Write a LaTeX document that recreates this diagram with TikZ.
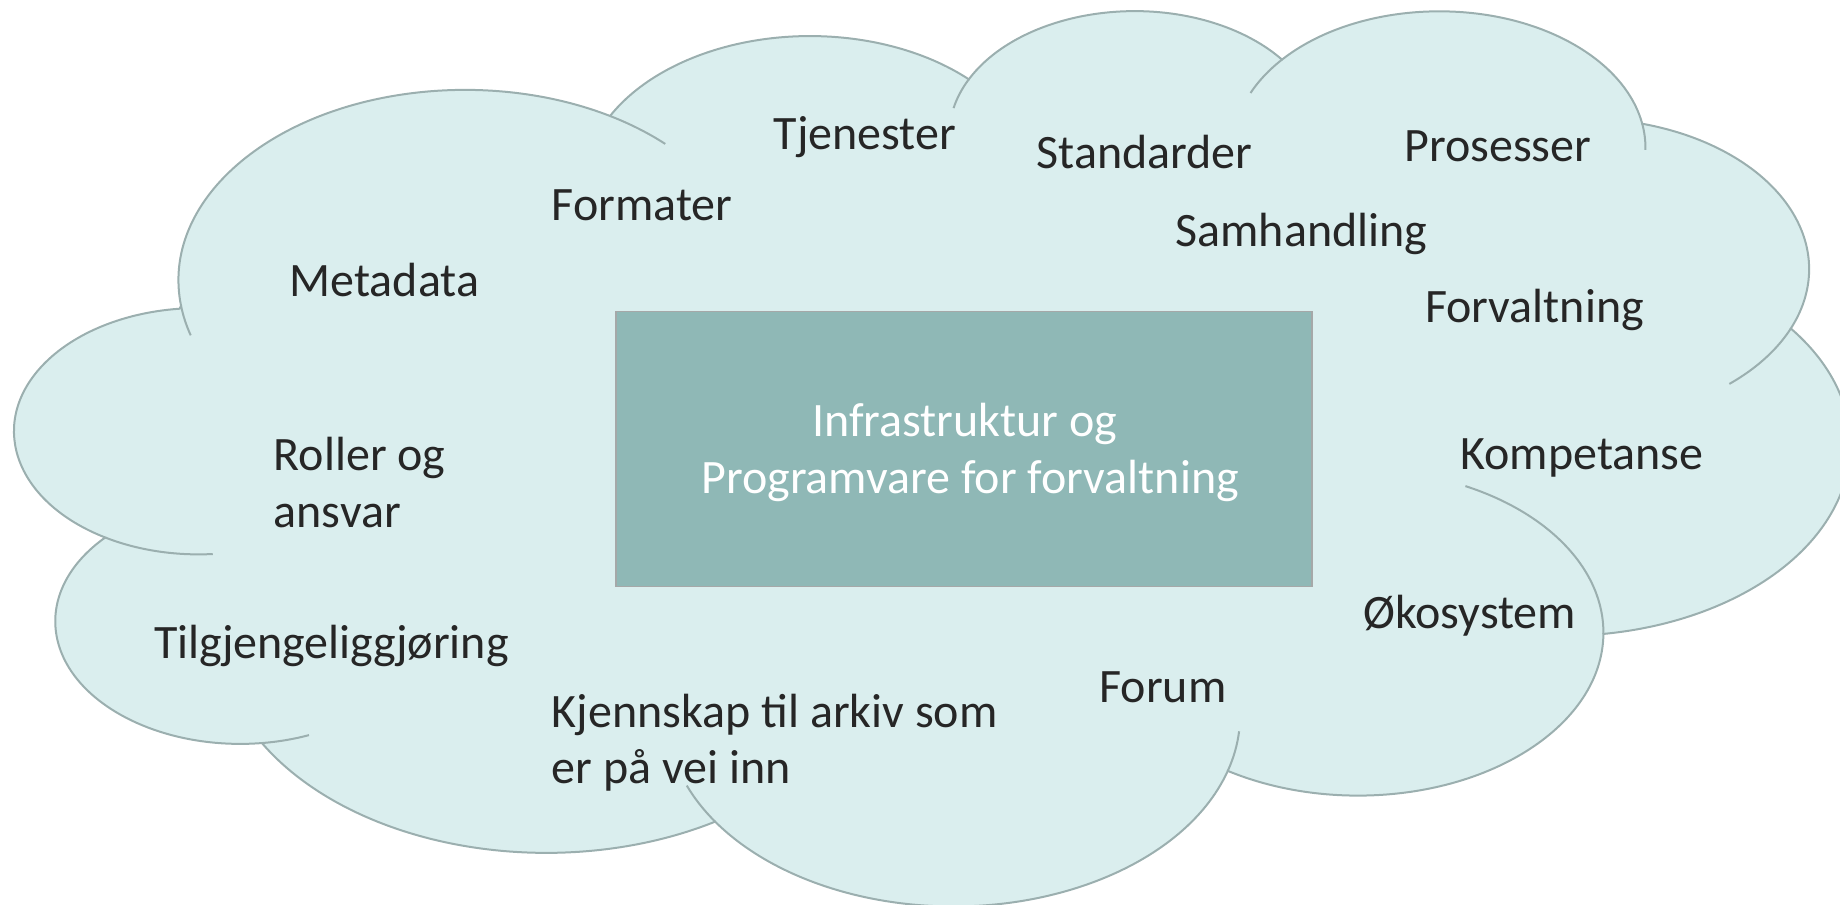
\documentclass[tikz,border=0pt]{standalone}
\usepackage{fontspec}
\setmainfont{Carlito}
\definecolor{cloudfill}{HTML}{DAEEEE}
\definecolor{cloudline}{HTML}{9BAFAF}
\definecolor{boxfill}{HTML}{8FB8B6}
\definecolor{boxline}{HTML}{A5A8A8}
\definecolor{ink}{HTML}{262626}
% parametric start/end angle of an OOXML arcTo (visual angles)
\newcommand\cldprep[5]{%
  \pgfmathsetmacro\cldtmpa{atan2((#2)*sin(#4),(#3)*cos(#4))}%
  \pgfmathsetmacro\cldtmpb{atan2((#2)*sin((#4)+(#5)),(#3)*cos((#4)+(#5)))}%
  \pgfmathsetmacro\cldtmpc{\cldtmpa+mod(\cldtmpb-\cldtmpa+720,360)}%
  \expandafter\xdef\csname cld#1s\endcsname{\cldtmpa}%
  \expandafter\xdef\csname cld#1e\endcsname{\cldtmpc}%
}
\tikzset{
  cloudshape/.style={draw=cloudline, fill=cloudfill, line width=1pt},
  cloudcrease/.style={draw=cloudline, line width=1pt},
  corebox/.style={draw=boxline, fill=boxfill, line width=0.7pt, minimum width=348pt, minimum height=137.5pt, inner sep=0pt},
  lbl/.style={text=ink, font=\fontsize{24}{28.3}\selectfont, inner sep=0pt, anchor=base west},
  corelbl/.style={text=white, font=\fontsize{24}{28.1}\selectfont, inner sep=0pt, align=center, anchor=base}
}
\begin{document}
\begin{tikzpicture}[x=0.5pt, y=-0.5pt]
\useasboundingbox (0,0) rectangle (1840,904);
% main outline arcs
\cldprep{A}{67.53}{91.90}{-190.48748}{123.78053}
\cldprep{B}{53.33}{72.67}{-144.10238}{89.94523}
\cldprep{C}{43.65}{59.45}{-145.80792}{99.72302}
\cldprep{D}{48.57}{65.95}{-130.98607}{117.24173}
\cldprep{E}{53.33}{72.73}{-78.70888}{109.02692}
\cldprep{F}{67.75}{92.20}{-46.26725}{130.269}
\cldprep{G}{57.85}{78.67}{0.62502}{114.03333}
\cldprep{H}{67.52}{92.15}{22.4516}{115.17255}
\cldprep{I}{77.20}{105.43}{66.24263}{75.71102}
\cldprep{J}{43.60}{59.18}{-274.94208}{146.73557}
\cldprep{K}{43.45}{59.45}{-246.8285}{152.51885}
% crease arcs
\cldprep{DA}{43.45}{59.45}{86.742}{26.4295}
\cldprep{DB}{43.60}{59.18}{73.61047}{11.44747}
\cldprep{DC}{67.52}{92.15}{137.62415}{14.0811}
\cldprep{DD}{67.52}{92.15}{6.45327}{15.99835}
\cldprep{DE}{57.85}{78.67}{-70.29235}{70.91737}
\cldprep{DF}{53.33}{72.73}{30.31803}{27.7515}
\cldprep{DG}{48.57}{65.95}{-13.74433}{14.8589}
\cldprep{DH}{48.57}{65.95}{-149.18145}{18.19537}
\cldprep{DI}{43.65}{59.45}{-163.49427}{17.68635}
\cldprep{DJ}{67.53}{91.90}{-66.70695}{12.31935}
\cldprep{DK}{67.53}{91.90}{157.65435}{11.85817}
\begin{scope}[shift={(15.5,8.2)}, x=2.12269pt, y=-1.03588pt]
\draw[cloudshape] (39.00,143.70) coordinate (j0)
  arc[start angle=\cldAs, end angle=\cldAe, x radius=67.53, y radius=91.90] coordinate (j1)
  arc[start angle=\cldBs, end angle=\cldBe, x radius=53.33, y radius=72.67] coordinate (j2)
  arc[start angle=\cldCs, end angle=\cldCe, x radius=43.65, y radius=59.45] coordinate (j3)
  arc[start angle=\cldDs, end angle=\cldDe, x radius=48.57, y radius=65.95] coordinate (j4)
  arc[start angle=\cldEs, end angle=\cldEe, x radius=53.33, y radius=72.73] coordinate (j5)
  arc[start angle=\cldFs, end angle=\cldFe, x radius=67.75, y radius=92.20] coordinate (j6)
  arc[start angle=\cldGs, end angle=\cldGe, x radius=57.85, y radius=78.67] coordinate (j7)
  arc[start angle=\cldHs, end angle=\cldHe, x radius=67.52, y radius=92.15] coordinate (j8)
  arc[start angle=\cldIs, end angle=\cldIe, x radius=77.20, y radius=105.43] coordinate (j9)
  arc[start angle=\cldJs, end angle=\cldJe, x radius=43.60, y radius=59.18] coordinate (j10)
  arc[start angle=\cldKs, end angle=\cldKe, x radius=43.45, y radius=59.45]
  -- cycle;
\draw[cloudcrease] (j10) arc[start angle=\cldDAe, end angle=\cldDAs, x radius=43.45, y radius=59.45];
\draw[cloudcrease] (j9) arc[start angle=\cldDBe, end angle=\cldDBs, x radius=43.60, y radius=59.18];
\draw[cloudcrease] (j8) arc[start angle=\cldDCs, end angle=\cldDCe, x radius=67.52, y radius=92.15];
\draw[cloudcrease] (j7) arc[start angle=\cldDDe, end angle=\cldDDs, x radius=67.52, y radius=92.15];
\draw[cloudcrease] (j6) arc[start angle=\cldDEe, end angle=\cldDEs, x radius=57.85, y radius=78.67];
\draw[cloudcrease] (j5) arc[start angle=\cldDFs, end angle=\cldDFe, x radius=53.33, y radius=72.73];
\draw[cloudcrease] (j4) arc[start angle=\cldDGs, end angle=\cldDGe, x radius=48.57, y radius=65.95];
\draw[cloudcrease] (j3) arc[start angle=\cldDHe, end angle=\cldDHs, x radius=48.57, y radius=65.95];
\draw[cloudcrease] (j2) arc[start angle=\cldDIe, end angle=\cldDIs, x radius=43.65, y radius=59.45];
\draw[cloudcrease] (j1) arc[start angle=\cldDJs, end angle=\cldDJe, x radius=67.53, y radius=91.90];
\draw[cloudcrease] (j0) arc[start angle=\cldDKe, end angle=\cldDKs, x radius=67.53, y radius=91.90];
\end{scope}
% central box
\node[corebox] (box) at (964,449) {};
\node[corelbl] (boxtext) at (964.6,493) {Infrastruktur og\\\hspace*{0.23em}Programvare for forvaltning};
% labels
\node[lbl] (tjenester) at (773.3,149.3) {Tjenester};
\node[lbl] (formater) at (551.5,220.7) {Formater};
\node[lbl] (metadata) at (289.3,296.7) {Metadata};
\node[lbl] (standarder) at (1036.2,168.3) {Standarder};
\node[lbl] (prosesser) at (1404,161.7) {Prosesser};
\node[lbl] (samhandling) at (1175.2,246) {Samhandling};
\node[lbl] (forvaltning) at (1424.6,322.7) {Forvaltning};
\node[lbl] (kompetanse) at (1460,469) {Kompetanse};
\node[lbl, align=left] (roller) at (273.4,527) {Roller og\\ansvar};
\node[lbl] (tilgj) at (153.7,658.7) {Tilgjengeliggjøring};
\node[lbl, align=left] (kjennskap) at (551.5,783.7) {Kjennskap til arkiv som\\er på vei inn};
\node[lbl] (forum) at (1099,702.7) {Forum};
\node[lbl] (okosystem) at (1363,628.7) {Økosystem};
\end{tikzpicture}
\end{document}
